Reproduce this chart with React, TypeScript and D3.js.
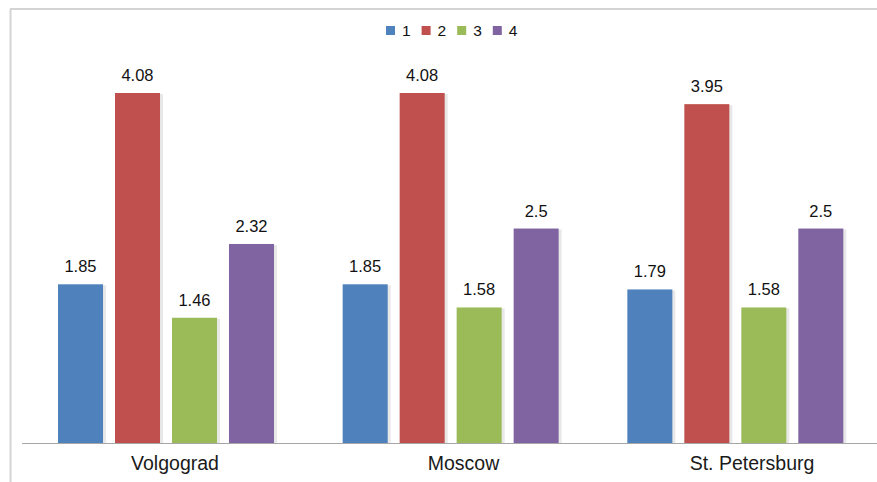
import React from "react";
import * as d3 from "d3";

const categories = ["Volgograd", "Moscow", "St. Petersburg"];
const seriesNames = ["1", "2", "3", "4"];
const series1 = [1.85, 1.85, 1.79];
const series2 = [4.08, 4.08, 3.95];
const series3 = [1.46, 1.58, 1.58];
const series4 = [2.32, 2.5, 2.5];
const colors = ["#4F81BD", "#C0504D", "#9BBB59", "#8064A2"];

const W = 877;
const H = 482;
const baseY = 443;
const font = "'Liberation Sans', Arial, sans-serif";

export default function App() {
  const values = [series1, series2, series3, series4];
  const x0 = d3.scaleBand<string>().domain(categories).range([23, 877]);
  const x1 = d3
    .scaleBand<string>()
    .domain(seriesNames)
    .range([35, 251])
    .paddingInner(0.21)
    .paddingOuter(0);
  // category labels sit slightly right of their bar groups
  const xLabel = d3.scalePoint<string>().domain(categories).range([175, 752]);
  const y = d3.scaleLinear().domain([0, 4.08]).range([baseY, 93]);

  return (
    <svg
      width={W}
      height={H}
      style={{ position: "absolute", left: 0, top: 0, background: "#fff" }}
    >
      <rect x={0} y={0} width={W} height={H} fill="#fff" />
      {/* chart frame */}
      <line x1={10.5} y1={9} x2={10.5} y2={H} stroke="#d4d4d4" strokeWidth={2} />
      <line x1={10} y1={9} x2={W} y2={9} stroke="#d4d4d4" strokeWidth={2} />

      {/* legend */}
      {seriesNames.map((s, i) => {
        const lx = 386 + i * 35.6;
        return (
          <g key={s}>
            <rect x={lx} y={26} width={9} height={9} fill={colors[i]} />
            <text
              x={lx + 16}
              y={35.5}
              fontFamily={font}
              fontSize={15.5}
              fill="#111"
            >
              {s}
            </text>
          </g>
        );
      })}

      {/* bars */}
      {categories.map((c, ci) => (
        <g key={c} transform={`translate(${x0(c)},0)`}>
          {seriesNames.map((s, si) => {
            const v = values[si][ci];
            const bx = x1(s)!;
            const bw = x1.bandwidth();
            const top = y(v);
            return (
              <g key={s}>
                <rect
                  x={bx + 1}
                  y={top + 1}
                  width={bw + 2}
                  height={baseY - top - 1}
                  fill="#d8d8d8"
                  opacity={0.6}
                />
                <rect x={bx} y={top} width={bw} height={baseY - top} fill={colors[si]} />
                <text
                  x={bx + bw / 2}
                  y={top - 12}
                  textAnchor="middle"
                  fontFamily={font}
                  fontSize={16.5}
                  fill="#111"
                >
                  {String(v)}
                </text>
              </g>
            );
          })}
        </g>
      ))}

      {/* category labels */}
      {categories.map((c) => (
        <text
          key={c}
          x={xLabel(c)}
          y={470}
          textAnchor="middle"
          fontFamily={font}
          fontSize={19.5}
          fill="#1a1a1a"
        >
          {c}
        </text>
      ))}

      {/* category axis */}
      <line x1={22} y1={baseY + 0.5} x2={W} y2={baseY + 0.5} stroke="#a6a6a6" strokeWidth={1.2} />
    </svg>
  );
}
